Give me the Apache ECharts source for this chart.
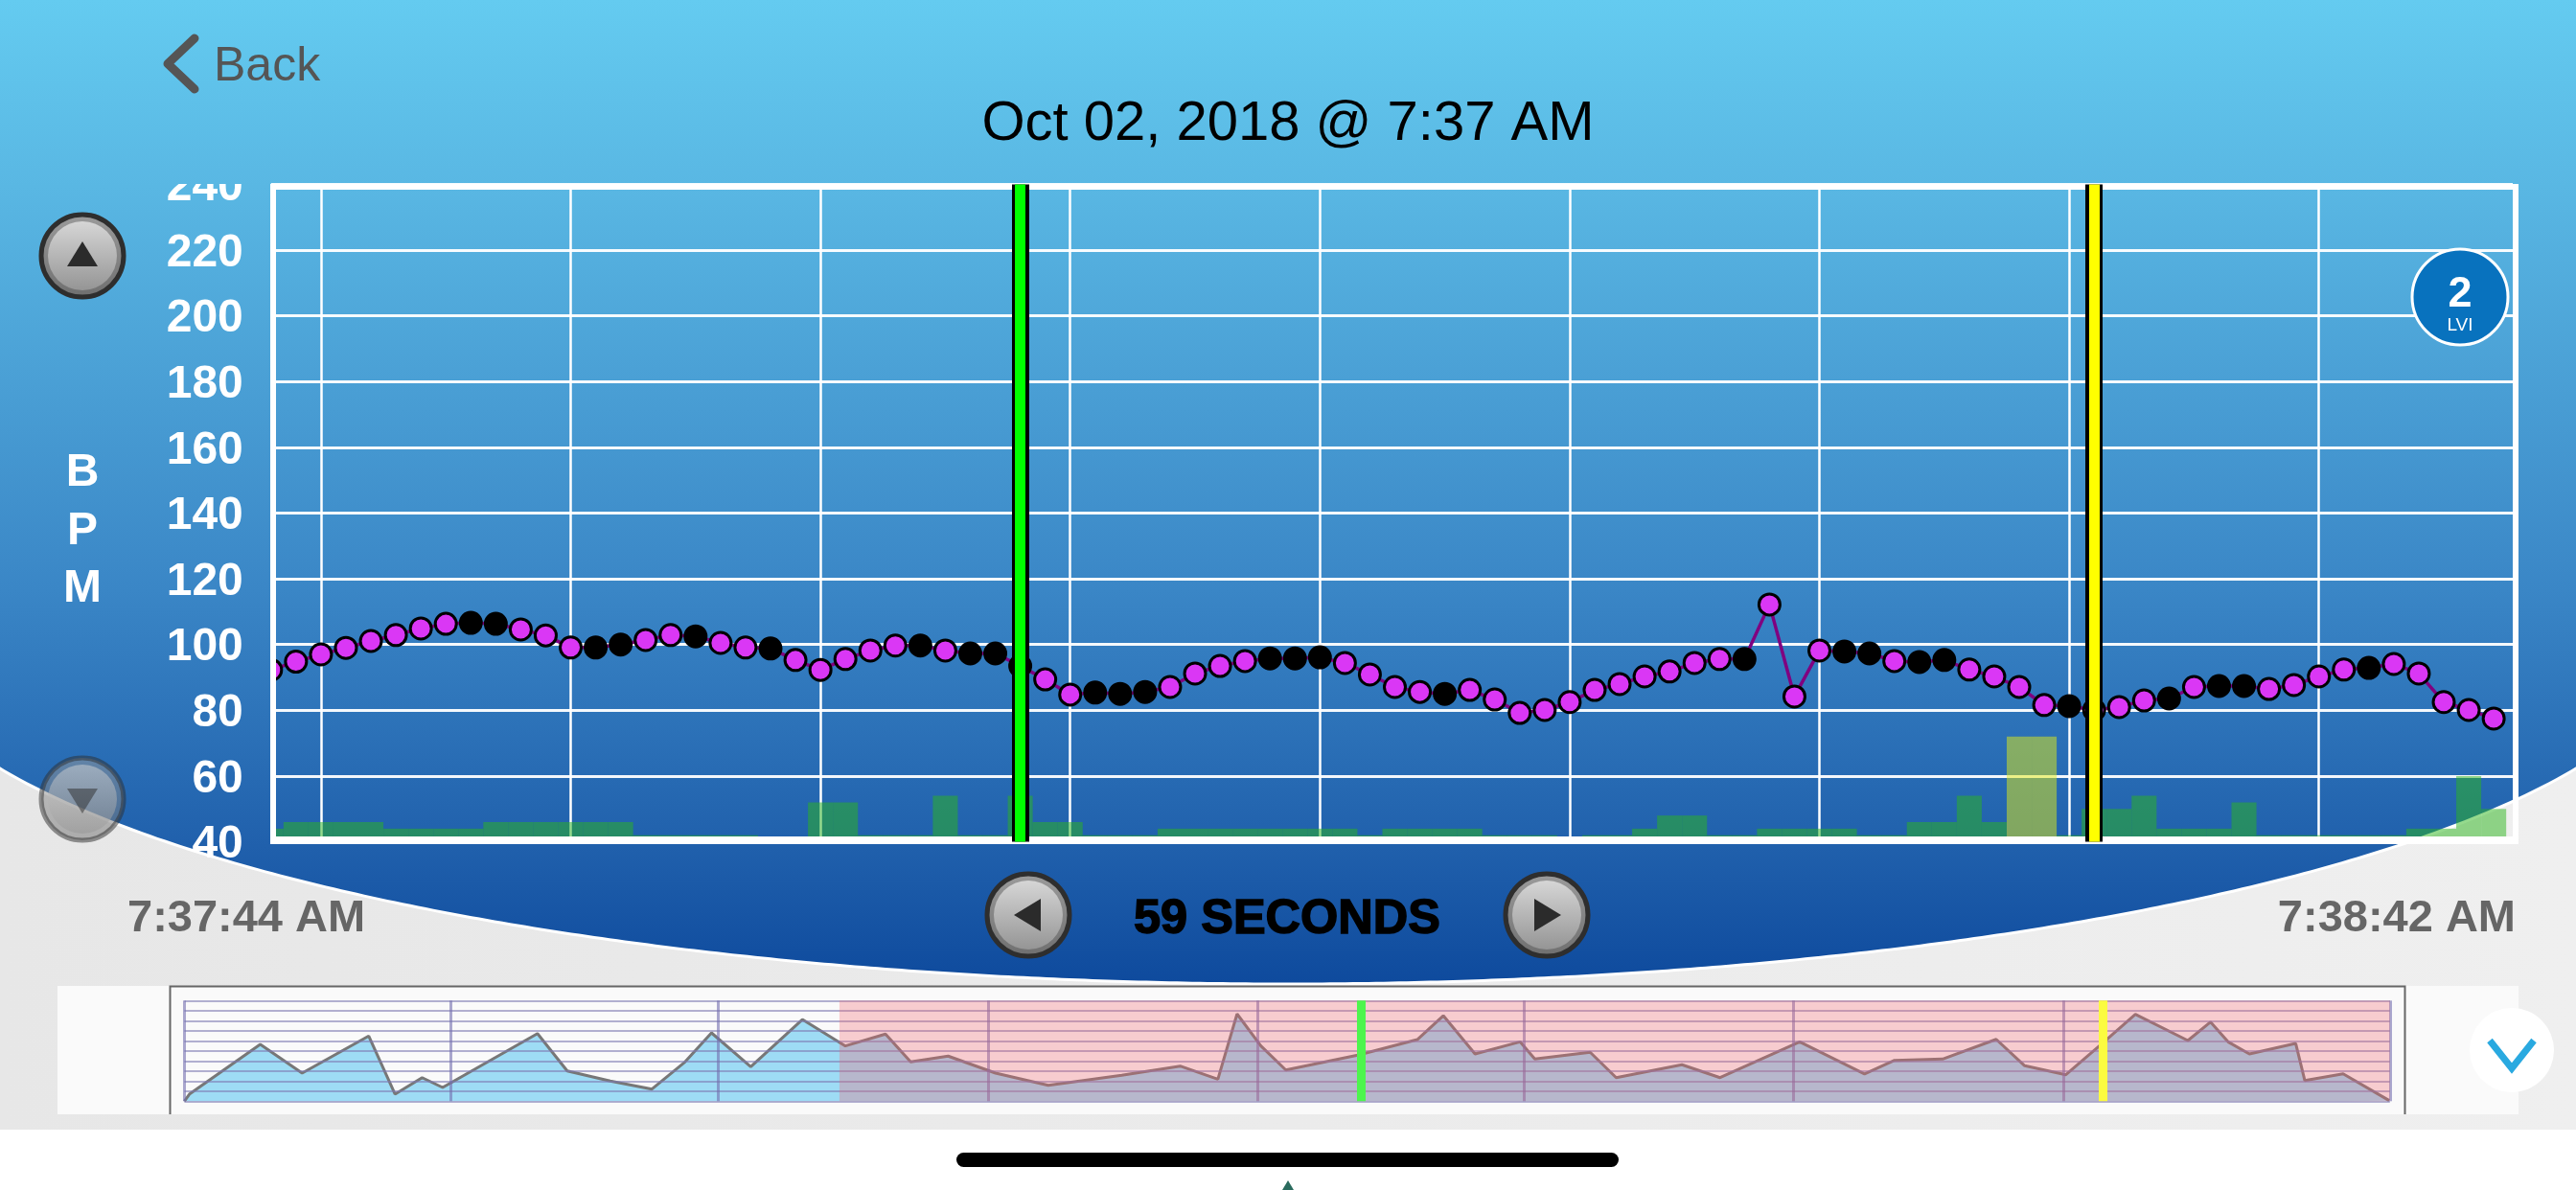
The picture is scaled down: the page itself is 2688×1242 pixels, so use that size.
<!DOCTYPE html>
<html><head><meta charset="utf-8">
<style>html,body{margin:0;padding:0;background:#fff}#c{width:2688px;height:1242px}</style>
<script src="https://cdn.jsdelivr.net/npm/echarts@6/dist/echarts.min.js"></script>
</head><body><div id="c"></div>
<script>
const bpm = [92.3,94.8,97.0,99.0,101.1,102.9,104.9,106.3,106.6,106.3,
104.6,102.8,99.1,99.1,100,101.4,102.9,102.5,100.5,99.1,
98.8,95.3,92.3,95.6,98.2,99.7,99.7,98.2,97.3,97.3,
93.5,89.4,84.8,85.4,85,85.6,87.1,91.2,93.5,95,
95.8,95.8,96.1,94.4,90.9,87.1,85.6,85,86.2,83.3,
79.2,80.1,82.5,86.2,88,90.3,91.8,94.4,95.6,95.6,
112.2,84.2,98.2,97.9,97.3,95,94.7,95.3,92.4,90.3,
87.1,81.6,81.3,80.1,81,83,83.6,87.1,87.4,87.4,
86.5,87.7,90.3,92.4,92.9,94.1,91.2,82.5,80.1,77.5];
const blackPoints = [8,9,13,14,17,20,26,28,29,30,33,34,35,40,41,42,47,59,63,64,66,67,72,76,78,79,84];
const barLevels = [44,46,46,46,46,44,44,44,44,46,
46,46,46,46,46,42,42,42,42,42,
null,null,52,52,42,42,42,54,42,42,
54,46,46,42,42,42,44,44,44,44,
44,44,44,44,42,44,44,44,44,42,
42,42,null,42,42,44,48,48,42,42,
44,44,44,44,42,42,46,46,54,46,
72,72,42,50,50,54,44,44,44,52,
42,42,42,42,42,42,44,44,60,50];
const highlightBars = [70,71];
const yTicks = {min:40,max:240,step:20};
const xGridLines = [2,12,22,32,42,52,62,72,82];
const cursors = [30,73];
const miniX = [0,0.24,3.44,5.34,8.36,9.55,10.78,11.71,16.01,17.36,19.31,21.2,22.7,23.9,25.68,28.02,29.97,31.79,32.93,34.63,36.78,39.17,42.5,45.15,46.86,47.73,48.81,49.94,53.25,55.9,57.08,58.52,60.56,61.23,63.74,64.92,67.9,69.63,73.24,76.18,77.54,79.72,82.15,83.44,85.31,86.99,88.46,90.84,91.87,92.68,93.63,95.73,96.14,97.88,99.97];
const miniY = [0,7.2,56.5,27.9,64.8,7,23.4,13.6,67.2,30.1,20,12,39,67.9,34.3,81.2,54.9,66.7,39,44.8,27.9,15.8,25.7,34.9,21.9,86.7,54.9,31,46,61.2,85,47,59,41.9,48.6,23.4,36.2,23.4,59,27,40.6,41.9,61.5,35.2,26.3,58.1,86.3,60.3,78.7,58.7,47,57.4,20.6,27.2,0.6];
const miniGridLines = [0,12.06,24.21,36.44,48.64,60.73,72.96,85.19,100];
const miniSelection = [29.7,100];
const miniCursors = [53.37,86.99];
const titleText = 'Oct 02, 2018 @ 7:37 AM';
const startLabel = '7:37:44 AM', endLabel = '7:38:42 AM', spanLabel = '59 SECONDS';

const FONT = '"Liberation Sans", Arial, sans-serif';
const skyStops = [{offset:0,color:'#64CBF0'},{offset:.19,color:'#59B7E3'},{offset:.6,color:'#3A86C6'},{offset:.86,color:'#2060AC'},{offset:1,color:'#0E4A9D'}];
const skyFill = {type:'linear',x:0,y:0,x2:0,y2:1027,global:true,colorStops:skyStops};
const g = [];
const rect = (x,y,w,h,fill,z,extra)=>g.push(Object.assign({type:'rect',silent:true,z,shape:{x,y,width:w,height:h},style:{fill}},extra||{}));
const text = (t,x,y,size,weight,fill,align,z,extra)=>g.push({type:'text',silent:true,z,x,y,style:Object.assign({text:t,font:`${weight} ${size}px ${FONT}`,fill,textAlign:align,textVerticalAlign:'middle'},extra||{})});
function vgrad(a,b){return {type:'linear',x:0,y:0,x2:0,y2:1,colorStops:[{offset:0,color:a},{offset:1,color:b}]};}
function button(cx,cy,tri,opacity){
  const o = opacity==null?1:opacity, z=5;
  const circ=(r,fill,stroke,lw)=>g.push({type:'circle',silent:true,z,shape:{cx,cy,r},style:{fill,stroke:stroke||null,lineWidth:lw||0,opacity:o}});
  circ(43,vgrad('#9C9C9C','#6E6E6E'),'#2E2E2E',5);
  circ(36,vgrad('#D6D6D6','#959595'));
  g.push({type:'polygon',silent:true,z,shape:{points:tri.map(p=>[cx+p[0],cy+p[1]])},style:{fill:'#2B2B2B',opacity:o}});
}
// page
rect(0,0,2688,1242,'#fff',-20);
rect(0,0,2688,1179,{type:'linear',x:0,y:0,x2:1,y2:0,colorStops:[{offset:0,color:'#E7E7E7'},{offset:1,color:'#EFEFEF'}]},-19);
const skyOutline = [[-4,-4],[2692,-4]];
for (let px=2692; px>=-4; px-=8){ const u=(px-1344)/1460; skyOutline.push([px,658+369*Math.sqrt(1-u*u)]); }
g.push({type:'polygon',silent:true,z:-18,shape:{points:skyOutline},style:{fill:skyFill,stroke:'#fff',lineWidth:3}});
rect(60,1029,2568,134,'#FAFAFA',-17);
g.push({type:'polyline',silent:true,z:-16,shape:{points:[[177.5,1163],[177.5,1029.5],[2509.5,1029.5],[2509.5,1163]]},style:{stroke:'#666',lineWidth:2,fill:null}});
// clip the top tick label at the plot's upper edge
rect(170,160,112,32,skyFill,1);
// clip the first sample's marker and bar at the plot's left edge
rect(264,670,18,60,skyFill,5);
rect(264,840,18,41,skyFill,5);
// plot frame
rect(282,192,2346,6,'#fff',6);
rect(282,873,2346,8,'#fff',6);
rect(282,192,6,689,'#fff',6);
rect(2622,192,6,689,'#fff',6);
// header
g.push({type:'polyline',silent:true,z:5,shape:{points:[[203,40],[175,66.5],[203,93]]},style:{stroke:'#555',lineWidth:9,lineCap:'round',lineJoin:'round',fill:null}});
text('Back',223,70,50,'normal','#555','left',5);
text('B',86,494,48,'bold','#fff','center',5);
text('P',86,555,48,'bold','#fff','center',5);
text('M',86,615,48,'bold','#fff','center',5);
button(86,267,[[0,-15],[16,11],[-16,11]]);
button(86,834,[[-16,-11],[16,-11],[0,15]],0.5);
button(1073,955,[[-15,0],[13,-17],[13,17]]);
button(1614,955,[[15,0],[-13,-17],[-13,17]]);
text(spanLabel,1343,960,50.5,'bold','#000','center',5,{stroke:'#000',lineWidth:1.5});
text(startLabel,133,959,47,'bold','#666','left',5);
text(endLabel,2625,959,47,'bold','#666','right',5);
// badge
g.push({type:'circle',silent:true,z:7,shape:{cx:2567,cy:310,r:50},style:{fill:'#0872BE',stroke:'#fff',lineWidth:3}});
text('2',2567,308,45,'bold','#fff','center',7);
text('LVI',2567,340,19,'normal','#fff','center',7);
// scroll-down control
g.push({type:'circle',silent:true,z:5,shape:{cx:2621,cy:1096,r:44},style:{fill:'#fff'}});
g.push({type:'polyline',silent:true,z:6,shape:{points:[[2598,1086],[2621,1115],[2644,1086]]},style:{stroke:'#29A9E0',lineWidth:7,fill:null,lineJoin:'miter'}});
// home indicator
rect(998,1203,691,15,'#000',5,{shape:{x:998,y:1203,width:691,height:15,r:7.5}});
g.push({type:'polygon',silent:true,z:5,shape:{points:[[1344,1232],[1350,1242],[1338,1242]]},style:{fill:'#2A6B5E'}});

const spacing = 26.06, originX = 282.8, plotR = 2622;
const hidden = {axisLine:{show:false},axisTick:{show:false},axisLabel:{show:false}};
const option = {
  animation:false,
  backgroundColor:'transparent',
  title:{text:titleText,left:'center',top:92,textStyle:{fontFamily:FONT,fontWeight:'normal',fontSize:58,color:'#000',lineHeight:66},z:5},
  graphic:{elements:g},
  grid:[
    {left:originX,right:2688-plotR,top:192.4,height:686.2},
    {left:192.4,right:194.2,top:1044.3,height:105}
  ],
  xAxis:[
    {gridIndex:0,type:'value',min:0,max:(plotR-originX)/spacing,
      axisLine:{show:false},axisLabel:{show:false},axisTick:{show:false,customValues:xGridLines},
      splitLine:{show:true,lineStyle:{color:'#fff',width:2.5}}},
    {gridIndex:1,type:'value',min:0,max:100,z:3,
      axisLine:{show:false},axisLabel:{show:false},axisTick:{show:false,customValues:miniGridLines},
      splitLine:{show:true,lineStyle:{color:'rgba(115,110,175,0.6)',width:3}}}
  ],
  yAxis:[
    {gridIndex:0,type:'value',min:yTicks.min,max:yTicks.max,interval:yTicks.step,
      axisLine:{show:false},axisTick:{show:false},
      axisLabel:{color:'#fff',fontFamily:FONT,fontWeight:'bold',fontSize:48,margin:29,verticalAlign:'top',lineHeight:7,showMinLabel:true,showMaxLabel:true},
      splitLine:{show:true,lineStyle:{color:'rgba(255,255,255,0.95)',width:3}}},
    {gridIndex:1,type:'value',min:0,max:100,interval:10,z:3,...hidden,
      splitLine:{show:true,lineStyle:{color:'rgba(125,122,178,0.78)',width:1.5}}}
  ],
  series:[
    {type:'bar',xAxisIndex:0,yAxisIndex:0,z:3,barWidth:spacing,barGap:'-100%',
      data:barLevels.map((v,k)=>({value:[k,v],itemStyle:{color:highlightBars.includes(k)?'rgba(225,235,20,0.5)':'rgba(44,182,28,0.5)'}}))},
    {type:'line',xAxisIndex:0,yAxisIndex:0,z:4,clip:false,symbol:'circle',symbolSize:22,showAllSymbol:true,
      lineStyle:{color:'#800080',width:3.5},
      data:bpm.map((v,k)=>({value:[k,v],itemStyle:{color:blackPoints.includes(k)?'#000':'#DA37F5',borderColor:'#000',borderWidth:3}}))},
    {type:'line',xAxisIndex:0,yAxisIndex:0,z:8,data:[],symbol:'none',
      markLine:{silent:true,symbol:'none',z:8,label:{show:false},animation:false,
        data:[
          {xAxis:cursors[0],lineStyle:{color:'#000',width:18,type:'solid'}},
          {xAxis:cursors[1],lineStyle:{color:'#000',width:18,type:'solid'}},
          {xAxis:cursors[0],lineStyle:{color:'#00FF00',width:11,type:'solid'}},
          {xAxis:cursors[1],lineStyle:{color:'#FFFF00',width:11,type:'solid'}}
        ]}},
    {type:'line',xAxisIndex:1,yAxisIndex:1,z:2,symbol:'none',
      lineStyle:{color:'#777',width:3},areaStyle:{color:'#9EDCF5',opacity:1},
      data:miniX.map((x,i)=>[x,miniY[i]]),
      markArea:{silent:true,z:4,itemStyle:{color:'rgba(243,100,110,0.3)'},data:[[{xAxis:miniSelection[0]},{xAxis:miniSelection[1]}]]}},
    {type:'line',xAxisIndex:1,yAxisIndex:1,z:6,data:[],symbol:'none',
      markLine:{silent:true,symbol:'none',z:6,label:{show:false},animation:false,
        data:[
          {xAxis:miniCursors[0],lineStyle:{color:'#4DF54D',width:9,type:'solid'}},
          {xAxis:miniCursors[1],lineStyle:{color:'#FBFB40',width:9,type:'solid'}}
        ]}}
  ]
};
echarts.init(document.getElementById('c')).setOption(option);
</script></body></html>
